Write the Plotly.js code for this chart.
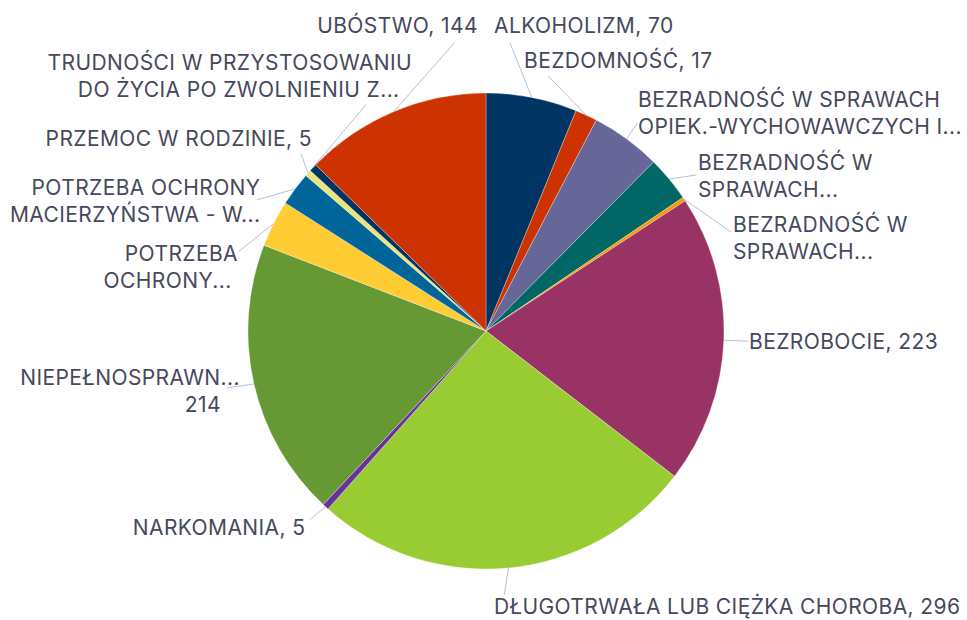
<!DOCTYPE html>
<html><head><meta charset="utf-8">
<script src="https://cdn.plot.ly/plotly-3.0.1.min.js"></script>
<style>html,body{margin:0;padding:0;background:#fff;}#chart{width:967px;height:620px;}
#chart .annotation-text{letter-spacing:0.4px;}</style>
</head><body><div id="chart"></div>
<script>
// ---- data ----
const categories = [
  "ALKOHOLIZM",
  "BEZDOMNOŚĆ",
  "BEZRADNOŚĆ W SPRAWACH OPIEK.-WYCHOWAWCZYCH I PROWADZENIA GOSPODARSTWA DOMOWEGO",
  "BEZRADNOŚĆ W SPRAWACH OPIEK.-WYCH. - RODZINY NIEPEŁNE",
  "BEZRADNOŚĆ W SPRAWACH OPIEK.-WYCH. - RODZINY WIELODZIETNE",
  "BEZROBOCIE",
  "DŁUGOTRWAŁA LUB CIĘŻKA CHOROBA",
  "NARKOMANIA",
  "NIEPEŁNOSPRAWNOŚĆ",
  "POTRZEBA OCHRONY MACIERZYŃSTWA",
  "POTRZEBA OCHRONY MACIERZYŃSTWA - WIELODZIETNOŚĆ",
  "PRZEMOC W RODZINIE",
  "TRUDNOŚCI W PRZYSTOSOWANIU DO ŻYCIA PO ZWOLNIENIU Z ZAKŁADU KARNEGO",
  "UBÓSTWO"
];
const values = [70, 17, 54, 35, 3, 223, 296, 5, 214, 36, 26, 5, 6, 144];
const labelLines = [
  ["ALKOHOLIZM, 70"],
  ["BEZDOMNOŚĆ, 17"],
  ["BEZRADNOŚĆ W SPRAWACH", "OPIEK.-WYCHOWAWCZYCH I..."],
  ["BEZRADNOŚĆ W", "SPRAWACH..."],
  ["BEZRADNOŚĆ W", "SPRAWACH..."],
  ["BEZROBOCIE, 223"],
  ["DŁUGOTRWAŁA LUB CIĘŻKA CHOROBA, 296"],
  ["NARKOMANIA, 5"],
  ["NIEPEŁNOSPRAWN...", "214&nbsp;&nbsp;&nbsp;"],
  ["POTRZEBA", "OCHRONY...&nbsp;"],
  ["POTRZEBA OCHRONY", "MACIERZYŃSTWA - W..."],
  ["PRZEMOC W RODZINIE, 5"],
  ["TRUDNOŚCI W PRZYSTOSOWANIU", "DO ŻYCIA PO ZWOLNIENIU Z...&nbsp;&nbsp;"],
  ["UBÓSTWO, 144"]
];

// ---- styles ----
const colors = ["#003462", "#CC3300", "#666699", "#006666", "#FF9900", "#993366",
  "#99CC33", "#663399", "#669933", "#FFCC33", "#006699", "#E8E67A", "#003462", "#CC3300"];
// label anchor side and offsets (px) relative to the slice's outer mid-point
const textSide = ["left","left","left","left","left","left","left","right","right","right","right","right","right","right"];
const textOff = [[-38,-72],[-62,-55],[11,-26],[29,-4],[49,38],[25,1],[-14,38],[-21,21],[-14,7],[-36,43],[-35,12],[4,-35],[99,-92],[84,-87]];
const tailOff = [[-22,-55],[-38,-39],[11,-16],[27,-4],[47,33],[24,1],[-4,27],[-16,13],[-27,4],[-35,28],[-38,11],[-7,-19],[53,-63],[61,-69]];
const textColor = "#46495C";
const leaderColor = "#B5C2D4";
const fontFamily = "Inter, 'Open Sans', sans-serif";
const fontSize = 21;

// ---- geometry from layout ----
const W = 967, H = 620;
const M = {l: 5, r: 0, t: 93, b: 51};
const pw = W - M.l - M.r, ph = H - M.t - M.b;
const cx = M.l + pw / 2, cy = M.t + ph / 2, R = Math.min(pw, ph) / 2;
const total = values.reduce((a, b) => a + b, 0);
const toPaper = (px, py) => [(px - M.l) / pw, 1 - (py - M.t) / ph];

let cum = 0;
const edges = values.map(v => {
  const a = (cum + v / 2) / total * 2 * Math.PI;
  cum += v;
  return [cx + R * Math.sin(a), cy - R * Math.cos(a)];
});

const annotations = [];
const shapes = [];
edges.forEach((e, i) => {
  const p0 = toPaper(e[0], e[1]);
  const p1 = toPaper(e[0] + tailOff[i][0], e[1] + tailOff[i][1]);
  shapes.push({type: "line", xref: "paper", yref: "paper",
    x0: p0[0], y0: p0[1], x1: p1[0], y1: p1[1],
    line: {color: leaderColor, width: 1}});
  const pt = toPaper(e[0] + textOff[i][0], e[1] + textOff[i][1]);
  annotations.push({xref: "paper", yref: "paper", x: pt[0], y: pt[1],
    xanchor: textSide[i], yanchor: "middle", align: textSide[i], showarrow: false,
    text: labelLines[i].join("<br>"), borderpad: 0, borderwidth: 0,
    font: {family: fontFamily, size: fontSize, color: textColor}});
});

const trace = {
  type: "pie",
  labels: categories,
  values: values,
  sort: false,
  direction: "clockwise",
  rotation: 0,
  textinfo: "none",
  hoverinfo: "label+value",
  marker: {colors: colors, line: {color: "rgba(255,255,255,0.6)", width: 0.5}},
  showlegend: false
};

Plotly.newPlot("chart", [trace], {
  width: W, height: H,
  margin: M,
  paper_bgcolor: "#ffffff",
  showlegend: false,
  annotations: annotations,
  shapes: shapes
}, {displayModeBar: false, staticPlot: true});
</script>
</body></html>
